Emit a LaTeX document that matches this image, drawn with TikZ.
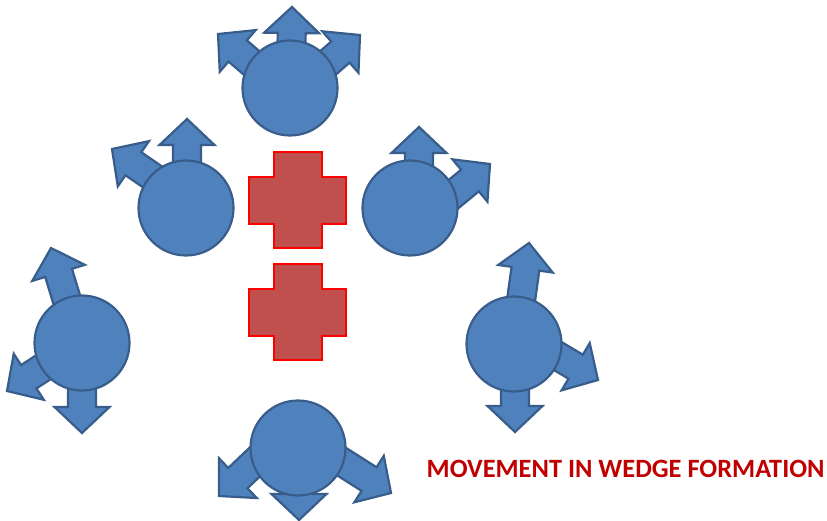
\documentclass[tikz,border=0pt]{standalone}
\usepackage{fontspec}
\setmainfont{Carlito}
\usetikzlibrary{calc}
\definecolor{bfill}{HTML}{4F81BD}
\definecolor{bline}{HTML}{385D8A}
\definecolor{cfill}{HTML}{C0504D}
\definecolor{tred}{HTML}{C00000}
\tikzset{
  blk/.style={fill=bfill, draw=bline, line width=2.2pt, line join=miter},
  unit/.style={circle, fill=bfill, draw=bline, line width=2.2pt, minimum size=95pt, inner sep=0pt},
  crossshape/.style={fill=cfill, draw=red, line width=2.5pt, line join=miter},
}
\newcommand\blockarrow[2]{%
  \path (#1) coordinate (S) (#2) coordinate (T) ($(T)!26pt!(S)$) coordinate (B);
  \draw[blk] ($(S)!14pt!90:(T)$) -- ($(B)!14pt!90:(T)$) -- ($(B)!27.5pt!90:(T)$) -- (T)
    -- ($(B)!27.5pt!-90:(T)$) -- ($(B)!14pt!-90:(T)$) -- ($(S)!14pt!-90:(T)$) -- cycle;}
\newcommand\crossat[3]{% name, left x, top y
  \draw[crossshape] (#2+25,#3) -- (#2+73,#3) -- (#2+73,#3+25) -- (#2+97,#3+25) -- (#2+97,#3+72)
    -- (#2+73,#3+72) -- (#2+73,#3+96) -- (#2+25,#3+96) -- (#2+25,#3+72) -- (#2,#3+72)
    -- (#2,#3+25) -- (#2+25,#3+25) -- cycle;
  \coordinate (#1) at (#2+48.5,#3+48);}
\begin{document}
\begin{tikzpicture}[x=1pt,y=-1pt]
\useasboundingbox (0,0) rectangle (827,521);
% unit 1 (top)
\blockarrow{291,88}{292,7}
\blockarrow{290,96}{218,34}
\blockarrow{290,96}{360,35}
\node[unit] (c1) at (290,88) {};
% unit 2 (upper left)
\blockarrow{187,208}{187,119}
\blockarrow{186,200}{112,149}
\node[unit] (c2) at (186,208) {};
% unit 3 (upper right)
\blockarrow{419,208}{419,127}
\blockarrow{410,230}{490,164}
\node[unit] (c3) at (410,208) {};
% unit 4 (left)
\blockarrow{80,343}{51,248}
\blockarrow{82,342}{7,391}
\blockarrow{82,343}{82,433}
\node[unit] (c4) at (82,343) {};
% unit 5 (right)
\blockarrow{515,344}{529,243}
\blockarrow{514,330}{598,380}
\blockarrow{515,344}{515,432}
\node[unit] (c5) at (514,344) {};
% unit 6 (bottom)
\blockarrow{299,448}{299,520}
\blockarrow{298,421}{219,496}
\blockarrow{298,434}{391,493}
\node[unit] (c6) at (298,448) {};
% crosses
\crossat{x1}{249}{152}
\crossat{x2}{249}{264}
% title
\node[anchor=west, text=tred, font=\bfseries\fontsize{26.4}{30}\selectfont, inner sep=0pt] (title) at (426.5,468.5) {MOVEMENT IN WEDGE FORMATION};
\end{tikzpicture}
\end{document}
